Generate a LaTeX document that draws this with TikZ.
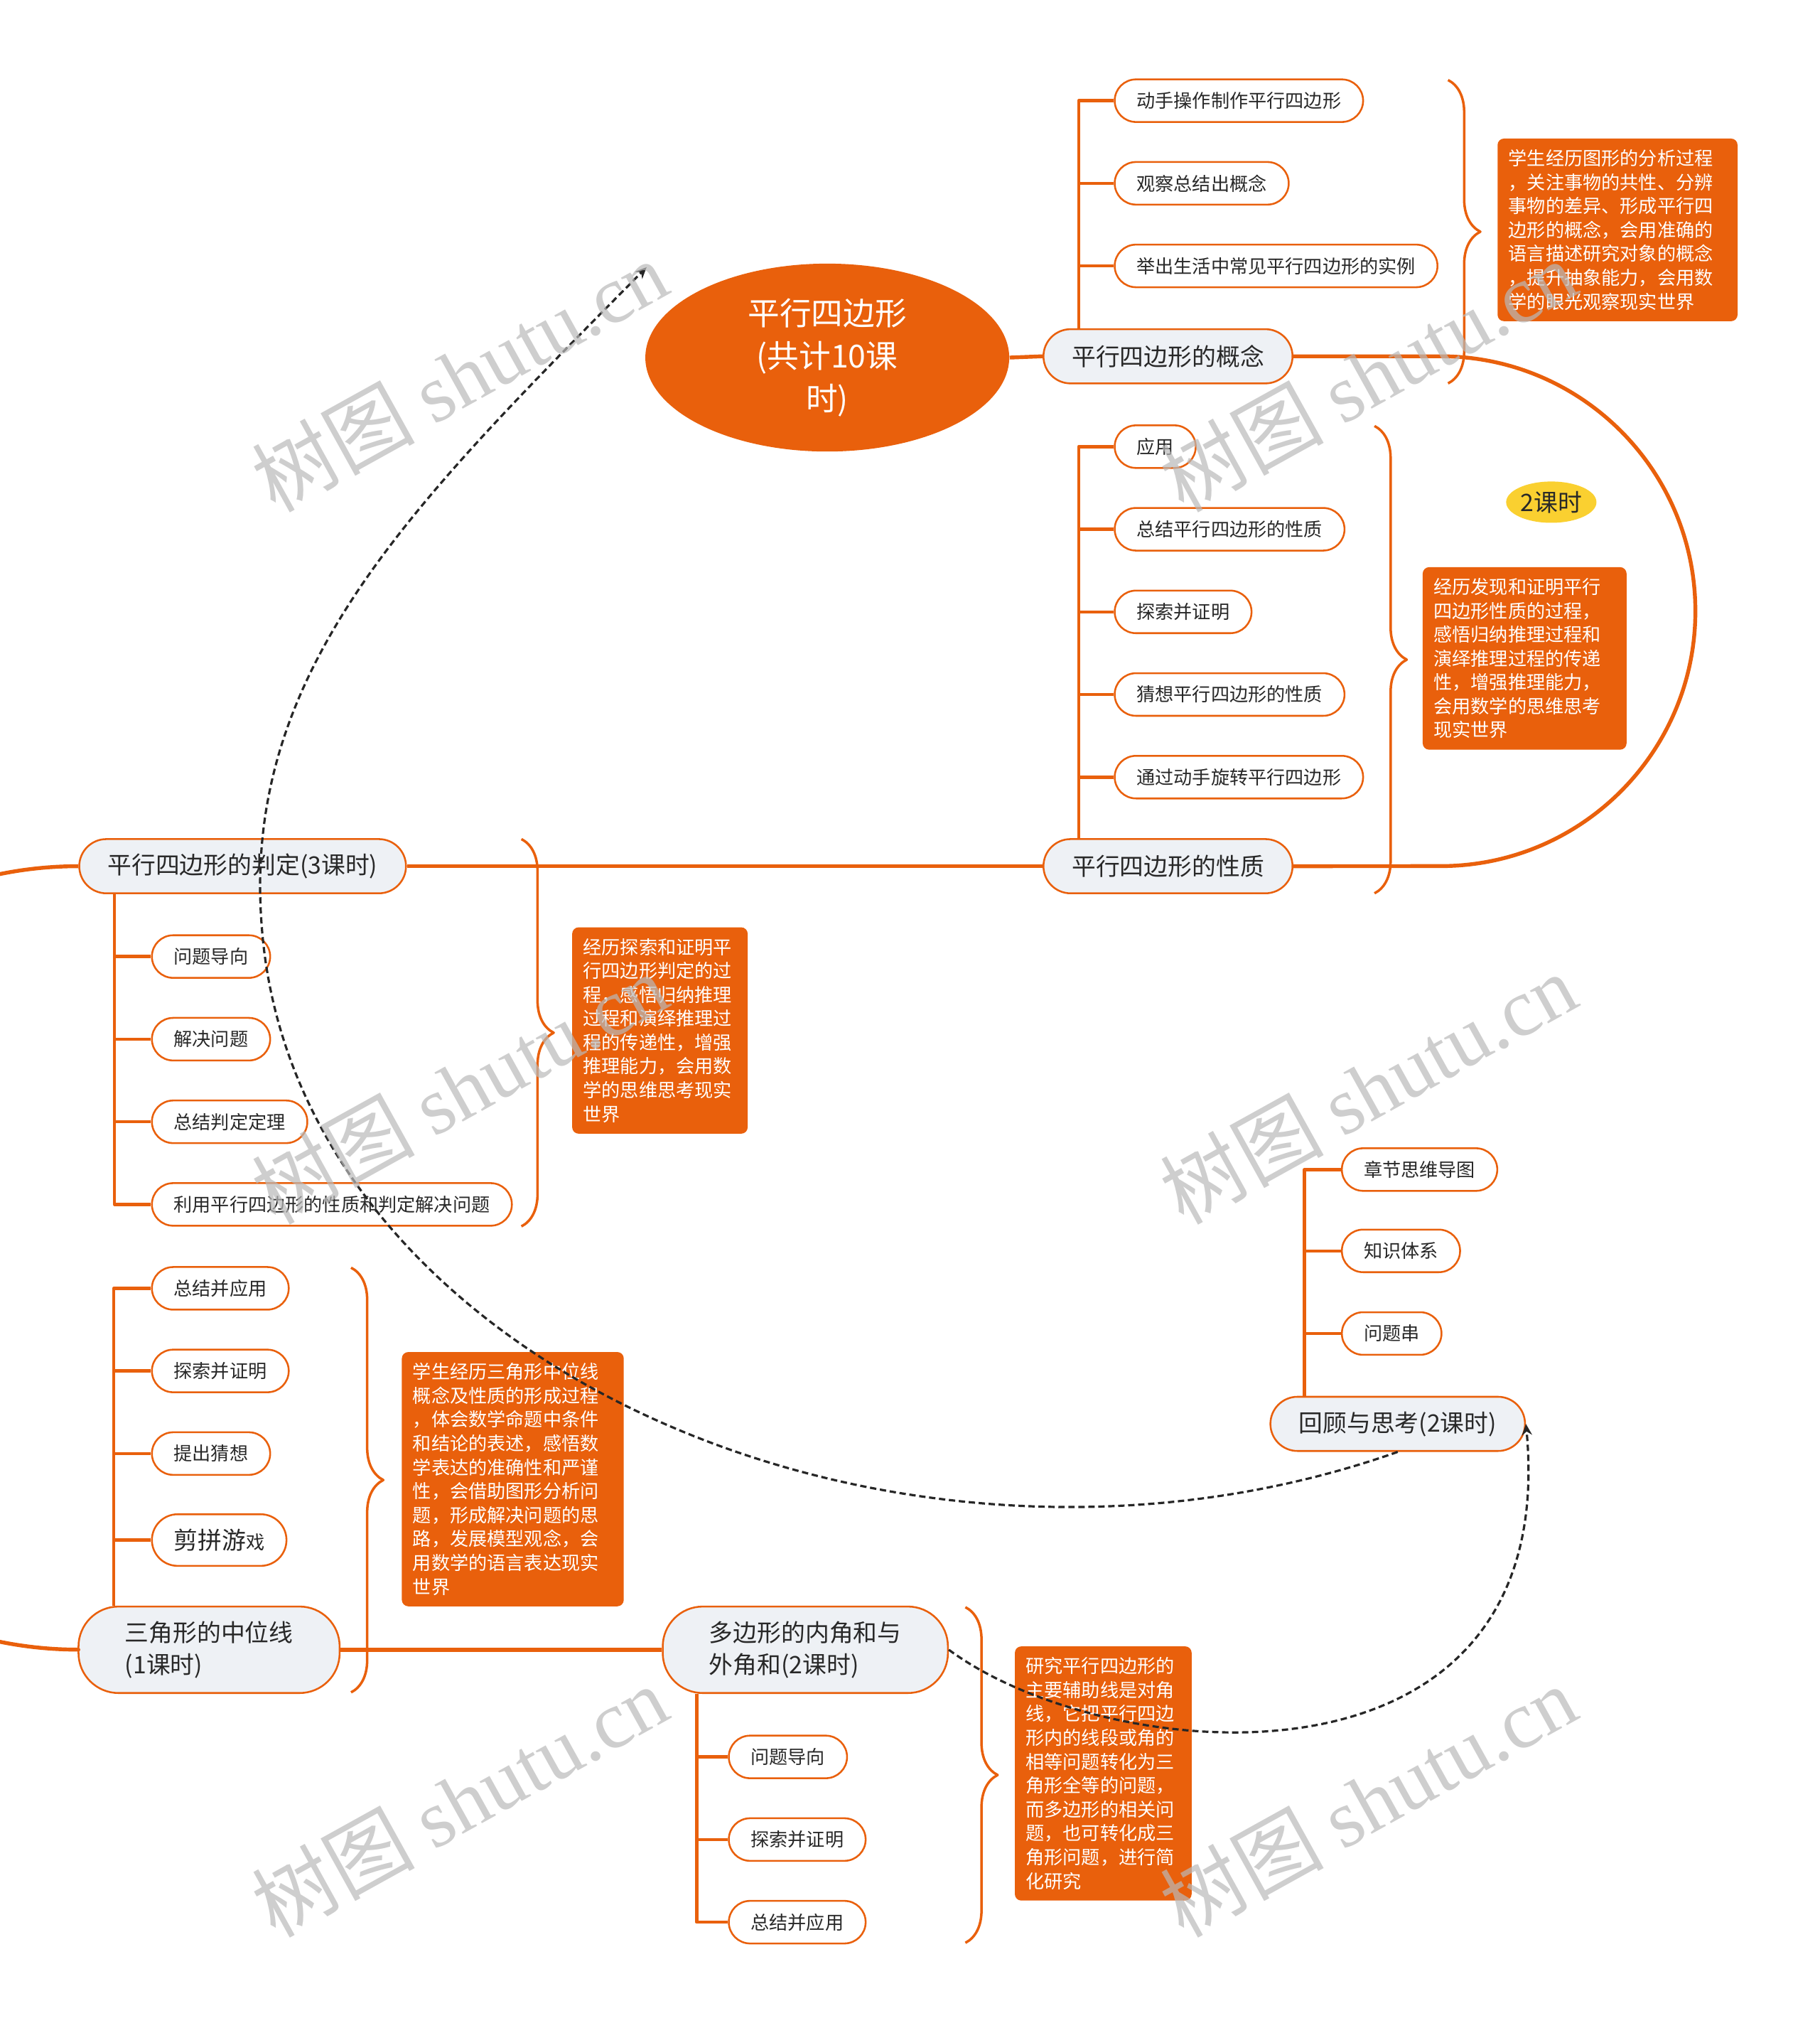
\documentclass[tikz,border=0pt]{standalone}
\usepackage{fontspec}
\setmainfont{Noto Sans CJK SC}
\newfontfamily\wmfont{Liberation Serif}
\usetikzlibrary{arrows.meta,decorations.pathreplacing,shapes.geometric}

\definecolor{mmorange}{RGB}{233,96,12}
\definecolor{mmgray}{RGB}{238,241,245}
\definecolor{mmtext}{RGB}{40,40,40}
\definecolor{mmyellow}{RGB}{250,208,48}
\definecolor{mmmark}{RGB}{185,185,185}

\tikzset{
  leaf/.style={draw=mmorange, line width=0.8pt, fill=white, rounded corners=0.33cm,
    minimum height=0.66cm, inner xsep=0.34cm, inner ysep=0pt, anchor=west,
    text=mmtext, font=\fontsize{8.2pt}{10pt}\selectfont},
  topic/.style={draw=mmorange, line width=0.8pt, fill=mmgray, rounded corners=0.42cm,
    minimum height=0.84cm, inner xsep=0.44cm, text=mmtext,
    font=\fontsize{10.6pt}{14.2pt}\selectfont},
  bigtopic/.style={topic, align=left, minimum height=1.34cm, rounded corners=0.62cm,
    inner xsep=0.72cm},
  memo/.style={fill=mmorange, rounded corners=0.1cm, text=white, align=left,
    anchor=north west, inner sep=0.17cm, font=\fontsize{8.2pt}{10.53pt}\selectfont},
  branch/.style={draw=mmorange, line width=1.7pt},
  twig/.style={draw=mmorange, line width=1.4pt},
  summary/.style={draw=mmorange, line width=1.1pt, decorate,
    decoration={brace, amplitude=0.5cm}},
  relation/.style={draw=black!85, line width=1pt, dash pattern=on 2.8pt off 1.6pt,
    -{Stealth[length=5pt,width=4.5pt]}},
}

\begin{document}
\begin{tikzpicture}[x=0.02cm, y=-0.02cm, line join=round]
  \clip (0,0) rectangle (1410,1571);

  % central topic
  \node[ellipse, fill=mmorange, minimum width=5.64cm, minimum height=2.6cm, text=white,
    align=center, font=\fontsize{14pt}{18.7pt}\selectfont] (root) at (641,277)
    {平行四边形\\(共计10课\\时)};

  % main topics
  \node[topic] (concept) at (905,276) {平行四边形的概念};
  \node[topic] (prop) at (905,671) {平行四边形的性质};
  \node[topic] (judge) at (188,671) {平行四边形的判定(3课时)};
  \node[bigtopic] (mid) at (162,1278) {三角形的中位线\\(1课时)};
  \node[bigtopic] (poly) at (624,1278) {多边形的内角和与\\外角和(2课时)};
  \node[topic] (review) at (1083,1103) {回顾与思考(2课时)};

  % concept
  \node[leaf] (c1) at (863,78) {动手操作制作平行四边形};
  \node[leaf] (c2) at (863,142) {观察总结出概念};
  \node[leaf] (c3) at (863,206) {举出生活中常见平行四边形的实例};
  \foreach \k in {c1,c2,c3}
    \draw[twig] ([xshift=0.56cm]concept.north west) |- (\k.west);
  \draw[summary] (1122,62) -- (1122,297);
  \node[memo, text width=3.38cm] (conceptmemo) at (1160,107)
    {学生经历图形的分析过程\\，关注事物的共性、分辨\\事物的差异、形成平行四\\边形的概念，会用准确的\\语言描述研究对象的概念\\，提升抽象能力，会用数\\学的眼光观察现实世界};

  % properties
  \node[leaf] (p1) at (863,346) {应用};
  \node[leaf] (p2) at (863,410) {总结平行四边形的性质};
  \node[leaf] (p3) at (863,474) {探索并证明};
  \node[leaf] (p4) at (863,538) {猜想平行四边形的性质};
  \node[leaf] (p5) at (863,602) {通过动手旋转平行四边形};
  \foreach \k in {p1,p2,p3,p4,p5}
    \draw[twig] ([xshift=0.56cm]prop.north west) |- (\k.west);
  \draw[summary] (1065,330) -- (1065,692);
  \node[memo, text width=2.82cm] (propmemo) at (1102,439)
    {经历发现和证明平行\\四边形性质的过程，\\感悟归纳推理过程和\\演绎推理过程的传递\\性，增强推理能力，\\会用数学的思维思考\\现实世界};

  % judgement
  \node[leaf] (j1) at (117,741) {问题导向};
  \node[leaf] (j2) at (117,805) {解决问题};
  \node[leaf] (j3) at (117,869) {总结判定定理};
  \node[leaf] (j4) at (117,933) {利用平行四边形的性质和判定解决问题};
  \foreach \k in {j1,j2,j3,j4}
    \draw[twig] ([xshift=0.56cm]judge.south west) |- (\k.west);
  \draw[summary] (404,650) -- (404,950);
  \node[memo, text width=2.38cm] (judgememo) at (443,718)
    {经历探索和证明平\\行四边形判定的过\\程，感悟归纳推理\\过程和演绎推理过\\程的传递性，增强\\推理能力，会用数\\学的思维思考现实\\世界};

  % midline
  \node[leaf] (m1) at (117,998) {总结并应用};
  \node[leaf] (m2) at (117,1062) {探索并证明};
  \node[leaf] (m3) at (117,1126) {提出猜想};
  \node[leaf, minimum height=0.8cm, rounded corners=0.4cm] (m4) at (117,1193)
    {{\fontsize{10.6pt}{12pt}\selectfont 剪拼游}戏};
  \foreach \k in {m1,m2,m3,m4}
    \draw[twig] ([xshift=0.56cm]mid.north west) |- (\k.west);
  \draw[summary] (272,982) -- (272,1311);
  \node[memo, text width=3.1cm] (midmemo) at (311,1047)
    {学生经历三角形中位线\\概念及性质的形成过程\\，体会数学命题中条件\\和结论的表述，感悟数\\学表达的准确性和严谨\\性，会借助图形分析问\\题，形成解决问题的思\\路，发展模型观念，会\\用数学的语言表达现实\\世界};

  % polygon
  \node[leaf] (g1) at (564,1361) {问题导向};
  \node[leaf] (g2) at (564,1425) {探索并证明};
  \node[leaf] (g3) at (564,1489) {总结并应用};
  \foreach \k in {g1,g2,g3}
    \draw[twig] ([xshift=0.54cm]poly.south west) |- (\k.west);
  \draw[summary] (748,1245) -- (748,1505);
  \node[memo, text width=2.4cm] (polymemo) at (786,1275)
    {研究平行四边形的\\主要辅助线是对角\\线，它把平行四边\\形内的线段或角的\\相等问题转化为三\\角形全等的问题，\\而多边形的相关问\\题，也可转化成三\\角形问题，进行简\\化研究};

  % review
  \node[leaf] (r1) at (1039,906) {章节思维导图};
  \node[leaf] (r2) at (1039,969) {知识体系};
  \node[leaf] (r3) at (1039,1033) {问题串};
  \foreach \k in {r1,r2,r3}
    \draw[twig] ([xshift=0.54cm]review.north west) |- (\k.west);

  % main branches
  \draw[branch] (root.east) -- (concept.west);
  \draw[branch] (concept.east) -- ++(2.28cm,0) arc[start angle=90, end angle=-90, radius=3.95cm]
    -- (prop.east);
  \draw[branch] (prop.west) -- (judge.east);
  \draw[branch] (judge.west) arc[start angle=90, end angle=270, radius=6.07cm] -- (mid.west);
  \draw[branch] (mid.east) -- (poly.west);
  \node[ellipse, fill=mmyellow, minimum width=1.4cm, minimum height=0.64cm, inner sep=0pt,
    text=mmtext, font=\fontsize{10.6pt}{12pt}\selectfont] (hours) at (1202,389) {2课时};

  % relations
  \coordinate (roottip) at (501,207);
  \draw[relation] (review.south) .. controls (700,1260) and (230,1060) .. (203,720)
    .. controls (186,520) and (320,390) .. (roottip);
  \draw[relation] (poly.east) .. controls (860,1370) and (1210,1400) .. (review.east);

  % watermark
  \foreach \wx in {356,1060}
    \foreach \wy in {291,843,1395}
      \node[rotate=29, text=mmmark, opacity=0.7, font=\fontsize{36pt}{40pt}\selectfont]
        (mark\wx\wy) at (\wx,\wy) {树图 {\wmfont shutu.cn}};
\end{tikzpicture}
\end{document}
